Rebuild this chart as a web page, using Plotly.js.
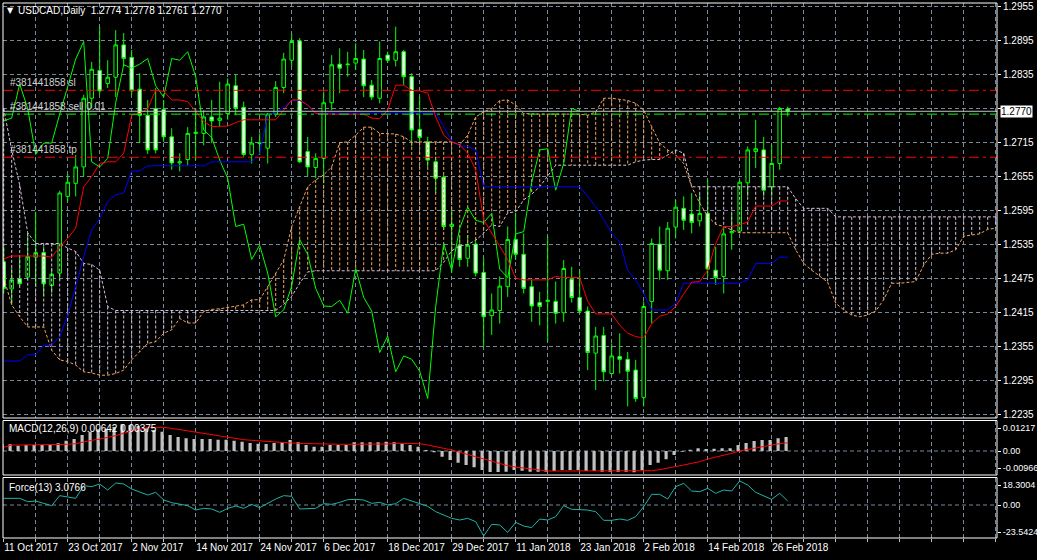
<!DOCTYPE html>
<html>
<head>
<meta charset="utf-8">
<script src="https://cdn.plot.ly/plotly-3.0.1.min.js"></script>
<style>
html,body{margin:0;padding:0;background:#000;}
#chart{width:1037px;height:560px;}
</style>
</head>
<body>
<div id="chart"></div>
<script>
// ---------------- DATA ----------------
const symbol = 'USDCAD,Daily';

const dates = [
'2017-10-11','2017-10-12','2017-10-13','2017-10-16','2017-10-17','2017-10-18','2017-10-19','2017-10-20','2017-10-23','2017-10-24',
'2017-10-25','2017-10-26','2017-10-27','2017-10-30','2017-10-31','2017-11-01','2017-11-02','2017-11-03','2017-11-06','2017-11-07',
'2017-11-08','2017-11-09','2017-11-10','2017-11-13','2017-11-14','2017-11-15','2017-11-16','2017-11-17','2017-11-20','2017-11-21',
'2017-11-22','2017-11-23','2017-11-24','2017-11-27','2017-11-28','2017-11-29','2017-11-30','2017-12-01','2017-12-04','2017-12-05',
'2017-12-06','2017-12-07','2017-12-08','2017-12-11','2017-12-12','2017-12-13','2017-12-14','2017-12-15','2017-12-18','2017-12-19',
'2017-12-20','2017-12-21','2017-12-22','2017-12-26','2017-12-27','2017-12-28','2017-12-29','2018-01-02','2018-01-03','2018-01-04',
'2018-01-05','2018-01-08','2018-01-09','2018-01-10','2018-01-11','2018-01-12','2018-01-15','2018-01-16','2018-01-17','2018-01-18',
'2018-01-19','2018-01-22','2018-01-23','2018-01-24','2018-01-25','2018-01-26','2018-01-29','2018-01-30','2018-01-31','2018-02-01',
'2018-02-02','2018-02-05','2018-02-06','2018-02-07','2018-02-08','2018-02-09','2018-02-12','2018-02-13','2018-02-14','2018-02-15',
'2018-02-16','2018-02-19','2018-02-20','2018-02-21','2018-02-22','2018-02-23','2018-02-26','2018-02-27','2018-02-28'
];

const open = [
1.2505,1.2457,1.2475,1.2478,1.2513,1.2521,1.2463,1.2485,1.2620,1.2643,
1.2672,1.2793,1.2842,1.2819,1.2830,1.2887,1.2865,1.2809,1.2763,1.2775,
1.2773,1.2725,1.2679,1.2685,1.2731,1.2731,1.2760,1.2754,1.2766,1.2815,
1.2777,1.2694,1.2713,1.2705,1.2765,1.2812,1.2860,1.2894,1.2699,1.2671,
1.2687,1.2785,1.2853,1.2852,1.2855,1.2862,1.2816,1.2793,1.2869,1.2860,
1.2875,1.2831,1.2738,1.2716,1.2681,1.2654,1.2567,1.2534,1.2511,1.2536,
1.2486,1.2410,1.2419,1.2461,1.2544,1.2518,1.2461,1.2433,1.2435,1.2435,
1.2415,1.2474,1.2442,1.2418,1.2344,1.2375,1.2308,1.2338,1.2333,1.2314,
1.2266,1.2435,1.2536,1.2489,1.2566,1.2599,1.2589,1.2577,1.2590,1.2490,
1.2479,1.2556,1.2559,1.2644,1.2699,1.2702,1.2637,1.2678,1.2774
];
const high = [
1.2531,1.2494,1.2512,1.2555,1.2593,1.2531,1.2494,1.2630,1.2659,1.2693,
1.2799,1.2857,1.2919,1.2860,1.2913,1.2908,1.2878,1.2837,1.2790,1.2811,
1.2790,1.2740,1.2696,1.2742,1.2775,1.2772,1.2790,1.2822,1.2828,1.2834,
1.2787,1.2725,1.2731,1.2767,1.2823,1.2873,1.2907,1.2899,1.2725,1.2696,
1.2805,1.2869,1.2881,1.2875,1.2890,1.2878,1.2825,1.2893,1.2875,1.2919,
1.2878,1.2837,1.2795,1.2725,1.2690,1.2658,1.2596,1.2549,1.2552,1.2543,
1.2511,1.2449,1.2479,1.2567,1.2590,1.2555,1.2473,1.2452,1.2549,1.2470,
1.2508,1.2496,1.2490,1.2426,1.2390,1.2390,1.2361,1.2379,1.2346,1.2332,
1.2435,1.2546,1.2567,1.2575,1.2614,1.2620,1.2626,1.2624,1.2649,1.2531,
1.2567,1.2590,1.2649,1.2708,1.2755,1.2725,1.2711,1.2778,1.2778
];
const low = [
1.2449,1.2429,1.2462,1.2473,1.2461,1.2444,1.2450,1.2473,1.2611,1.2620,
1.2655,1.2775,1.2800,1.2811,1.2795,1.2849,1.2799,1.2714,1.2695,1.2696,
1.2716,1.2667,1.2664,1.2675,1.2684,1.2710,1.2714,1.2743,1.2755,1.2763,
1.2690,1.2678,1.2693,1.2678,1.2760,1.2802,1.2849,1.2679,1.2655,1.2652,
1.2643,1.2772,1.2802,1.2831,1.2843,1.2795,1.2790,1.2784,1.2855,1.2849,
1.2816,1.2708,1.2716,1.2672,1.2626,1.2561,1.2485,1.2496,1.2496,1.2479,
1.2355,1.2376,1.2396,1.2443,1.2508,1.2449,1.2399,1.2393,1.2364,1.2396,
1.2399,1.2433,1.2414,1.2314,1.2279,1.2294,1.2306,1.2308,1.2250,1.2258,
1.2250,1.2396,1.2473,1.2473,1.2546,1.2561,1.2555,1.2567,1.2479,1.2464,
1.2449,1.2526,1.2555,1.2620,1.2670,1.2620,1.2620,1.2667,1.2761
];
const close = [
1.2458,1.2473,1.2466,1.2514,1.2521,1.2466,1.2483,1.2626,1.2645,1.2672,
1.2793,1.2844,1.2806,1.2830,1.2887,1.2863,1.2806,1.2763,1.2702,1.2702,
1.2725,1.2679,1.2681,1.2731,1.2733,1.2760,1.2753,1.2758,1.2818,1.2775,
1.2694,1.2714,1.2714,1.2765,1.2812,1.2862,1.2893,1.2681,1.2672,1.2687,
1.2785,1.2852,1.2846,1.2853,1.2863,1.2815,1.2795,1.2863,1.2860,1.2875,
1.2831,1.2737,1.2724,1.2684,1.2652,1.2567,1.2571,1.2509,1.2534,1.2485,
1.2408,1.2420,1.2462,1.2544,1.2518,1.2458,1.2427,1.2426,1.2437,1.2414,
1.2493,1.2442,1.2418,1.2345,1.2374,1.2311,1.2339,1.2333,1.2312,1.2264,
1.2426,1.2537,1.2490,1.2564,1.2601,1.2578,1.2574,1.2590,1.2492,1.2477,
1.2554,1.2558,1.2645,1.2702,1.2704,1.2631,1.2678,1.2775,1.2770
];

// Ichimoku (9,26,52)
const tenkan = [
1.2510,1.2515,1.2515,1.2515,1.2515,1.2515,1.2513,1.2531,1.2546,1.2564,
1.2637,1.2655,1.2678,1.2681,1.2681,1.2696,1.2763,1.2766,1.2775,1.2807,
1.2805,1.2790,1.2790,1.2787,1.2770,1.2752,1.2743,1.2743,1.2744,1.2750,
1.2755,1.2755,1.2755,1.2755,1.2755,1.2772,1.2790,1.2790,1.2781,1.2766,
1.2765,1.2765,1.2765,1.2765,1.2765,1.2765,1.2758,1.2757,1.2772,1.2816,
1.2816,1.2807,1.2806,1.2802,1.2760,1.2728,1.2716,1.2711,1.2696,1.2667,
1.2579,1.2555,1.2532,1.2509,1.2476,1.2473,1.2473,1.2473,1.2473,1.2479,
1.2477,1.2477,1.2477,1.2435,1.2413,1.2413,1.2413,1.2393,1.2379,1.2373,
1.2371,1.2396,1.2409,1.2413,1.2426,1.2448,1.2469,1.2470,1.2490,1.2537,
1.2567,1.2567,1.2570,1.2575,1.2603,1.2603,1.2603,1.2612,1.2612
];
const kijun = [
1.2330,1.2330,1.2330,1.2341,1.2341,1.2358,1.2358,1.2373,1.2411,1.2461,
1.2514,1.2561,1.2581,1.2611,1.2623,1.2626,1.2665,1.2665,1.2674,1.2674,
1.2674,1.2674,1.2674,1.2674,1.2674,1.2674,1.2681,1.2681,1.2681,1.2681,
1.2681,1.2681,1.2696,1.2763,1.2768,1.2777,1.2789,1.2789,1.2781,1.2767,
1.2767,1.2767,1.2767,1.2767,1.2767,1.2767,1.2767,1.2767,1.2767,1.2767,
1.2767,1.2767,1.2767,1.2767,1.2767,1.2743,1.2718,1.2709,1.2708,1.2702,
1.2637,1.2637,1.2637,1.2637,1.2637,1.2637,1.2637,1.2637,1.2637,1.2637,
1.2637,1.2637,1.2637,1.2620,1.2602,1.2579,1.2555,1.2540,1.2490,1.2473,
1.2449,1.2420,1.2420,1.2420,1.2432,1.2467,1.2467,1.2467,1.2467,1.2467,
1.2467,1.2467,1.2467,1.2473,1.2502,1.2502,1.2502,1.2513,1.2513
];
// Senkou spans, already shifted 26 bars forward (index = bar position)
const senkouA = [
1.2477,1.2429,1.2408,1.2390,1.2390,1.2390,1.2349,1.2332,1.2329,1.2323,
1.2311,1.2309,1.2305,1.2305,1.2308,1.2314,1.2332,1.2346,1.2361,1.2364,
1.2379,1.2385,1.2405,1.2397,1.2397,1.2417,1.2421,1.2422,1.2424,1.2426,
1.2429,1.2438,1.2438,1.2461,1.2485,1.2508,1.2567,1.2602,1.2637,1.2649,
1.2658,1.2672,1.2715,1.2716,1.2728,1.2742,1.2742,1.2731,1.2731,1.2730,
1.2725,1.2716,1.2716,1.2716,1.2716,1.2716,1.2716,1.2711,1.2728,1.2760,
1.2769,1.2775,1.2789,1.2790,1.2781,1.2766,1.2765,1.2765,1.2765,1.2765,
1.2765,1.2765,1.2765,1.2763,1.2769,1.2793,1.2793,1.2791,1.2789,1.2784,
1.2772,1.2743,1.2714,1.2702,1.2693,1.2678,1.2637,1.2608,1.2585,1.2571,
1.2567,1.2561,1.2556,1.2556,1.2556,1.2556,1.2556,1.2556,1.2556,1.2526,
1.2502,1.2490,1.2480,1.2469,1.2432,1.2420,1.2411,1.2408,1.2411,1.2418,
1.2438,1.2467,1.2467,1.2469,1.2470,1.2499,1.2518,1.2520,1.2520,1.2526,
1.2550,1.2552,1.2554,1.2562,1.2564
];
const senkouB = [
1.2775,1.2702,1.2640,1.2556,1.2537,1.2537,1.2537,1.2537,1.2529,1.2523,
1.2502,1.2500,1.2490,1.2426,1.2419,1.2419,1.2419,1.2419,1.2419,1.2419,
1.2419,1.2419,1.2419,1.2419,1.2419,1.2419,1.2419,1.2419,1.2419,1.2419,
1.2419,1.2419,1.2419,1.2419,1.2419,1.2430,1.2444,1.2467,1.2487,1.2489,
1.2489,1.2489,1.2489,1.2489,1.2489,1.2489,1.2489,1.2489,1.2489,1.2489,
1.2489,1.2489,1.2489,1.2489,1.2489,1.2504,1.2524,1.2533,1.2535,1.2543,
1.2555,1.2570,1.2567,1.2591,1.2593,1.2614,1.2624,1.2637,1.2655,1.2675,
1.2675,1.2675,1.2675,1.2675,1.2675,1.2675,1.2675,1.2675,1.2675,1.2681,
1.2684,1.2685,1.2685,1.2693,1.2702,1.2696,1.2637,1.2637,1.2637,1.2637,
1.2637,1.2637,1.2637,1.2637,1.2637,1.2637,1.2637,1.2637,1.2637,1.2616,
1.2599,1.2599,1.2599,1.2599,1.2584,1.2584,1.2584,1.2584,1.2584,1.2584,
1.2584,1.2584,1.2584,1.2584,1.2584,1.2584,1.2584,1.2584,1.2584,1.2584,
1.2584,1.2584,1.2584,1.2584,1.2584
];

// MACD(12,26,9)
const macdMain = [
0.00303,0.00303,0.00243,0.00273,0.00273,0.00273,0.00273,0.00349,0.00470,0.00546,
0.00728,0.00879,0.00985,0.01001,0.01092,0.01217,0.01182,0.01137,0.01031,0.00955,
0.00879,0.00728,0.00637,0.00576,0.00546,0.00546,0.00546,0.00515,0.00515,0.00470,
0.00424,0.00364,0.00334,0.00318,0.00364,0.00394,0.00500,0.00394,0.00273,0.00197,
0.00197,0.00273,0.00273,0.00273,0.00394,0.00394,0.00394,0.00394,0.00424,0.00394,
0.00334,0.00273,0.00197,0.00045,-0.00061,-0.00258,-0.00409,-0.00531,-0.00637,-0.00743,
-0.00864,-0.00955,-0.00955,-0.00940,-0.00864,-0.00894,-0.00940,-0.00940,-0.00940,-0.00910,
-0.00864,-0.00864,-0.00864,-0.00910,-0.00910,-0.00940,-0.00940,-0.00940,-0.00940,-0.00966,
-0.00864,-0.00637,-0.00531,-0.00379,-0.00182,-0.00030,0.00061,0.00121,0.00091,0.00106,
0.00121,0.00121,0.00273,0.00364,0.00455,0.00500,0.00500,0.00580,0.00642
];
const macdSignal = [
0.00167,0.00273,0.00273,0.00273,0.00273,0.00273,0.00273,0.00303,0.00303,0.00334,
0.00424,0.00485,0.00546,0.00606,0.00697,0.00803,0.00925,0.01001,0.01061,0.01076,
0.01076,0.01031,0.00970,0.00910,0.00849,0.00788,0.00728,0.00667,0.00622,0.00561,
0.00515,0.00485,0.00455,0.00424,0.00394,0.00379,0.00364,0.00349,0.00334,0.00318,
0.00303,0.00303,0.00303,0.00303,0.00303,0.00318,0.00318,0.00318,0.00318,0.00349,
0.00349,0.00349,0.00334,0.00273,0.00182,0.00121,0.00045,-0.00061,-0.00152,-0.00258,
-0.00364,-0.00485,-0.00561,-0.00667,-0.00728,-0.00788,-0.00819,-0.00864,-0.00910,-0.00910,
-0.00910,-0.00894,-0.00894,-0.00894,-0.00894,-0.00894,-0.00894,-0.00894,-0.00894,-0.00894,
-0.00894,-0.00894,-0.00849,-0.00788,-0.00712,-0.00637,-0.00561,-0.00485,-0.00364,-0.00288,
-0.00197,-0.00106,0.00000,0.00076,0.00152,0.00212,0.00273,0.00334,0.00375
];

// Force Index(13)
const force = [
5.07,5.07,5.07,2.54,3.04,1.27,-0.51,7.10,6.34,5.07,
14.71,13.95,15.98,11.42,16.74,15.98,12.18,10.15,7.61,9.64,
3.81,1.78,0.76,-0.51,-3.81,-2.54,-3.04,-5.58,-2.54,-0.76,
-2.54,0.51,-2.03,1.27,4.57,7.10,6.60,-3.04,-3.04,-2.54,
1.01,0.51,2.03,4.06,4.31,3.81,1.27,2.03,0.00,1.00,
5.07,3.04,1.27,-1.01,-5.07,-7.61,-10.15,-11.42,-10.15,-12.69,
-23.5424,-14.71,-15.22,-20.80,-13.19,-15.98,-17.25,-10.66,-11.42,-8.88,
-0.51,-3.30,-3.81,-3.81,-5.07,-11.67,-11.67,-10.66,-11.67,-8.88,
-1.27,8.12,8.12,4.57,13.95,16.49,10.66,10.15,12.69,8.88,
11.42,10.66,18.3004,15.22,9.64,6.85,4.31,8.88,3.0766
];

// open order
const orderId = '#381441858';
const orderType = 'sell';
const orderLots = 0.01;
const orderOpen = 1.2765;
const orderSL = 1.2807;
const orderTP = 1.2689;

// price axis ticks
const priceTicks = [1.2235,1.2295,1.2355,1.2415,1.2475,1.2535,1.2595,1.2655,1.2715,1.2775,1.2835,1.2895,1.2955];
const months = ['Jan','Feb','Mar','Apr','May','Jun','Jul','Aug','Sep','Oct','Nov','Dec'];

// ---------------- BUILD ----------------
const N = close.length;
const idx = close.map((_, i) => i);
const cloudIdx = senkouA.map((_, i) => i);
const last = N - 1;

const fmtDate = s => { const p = s.split('-'); return (+p[2]) + ' ' + months[+p[1]-1] + ' ' + p[0]; };

// x ticks every 4 bars, date labels every 8 bars
const xTickVals = [], xTickText = [];
for (let k = 0; k < cloudIdx.length; k += 4) {
  xTickVals.push(k);
  xTickText.push(k % 8 === 0 && k < N ? fmtDate(dates[k]) : '');
}

// Kumo hatching
const upX=[], upY=[], dnX=[], dnY=[];
senkouA.forEach((a, i) => {
  const b = senkouB[i];
  if (a >= b) { upX.push(i, i, null); upY.push(a, b, null); }
  else { dnX.push(i, i, null); dnY.push(b, a, null); }
});

// Chikou = close shifted 26 bars back
const chX = [], chY = [];
for (let i = 0; i < N; i++) { if (i - 26 >= -1) { chX.push(i - 26); chY.push(close[i]); } }

const GRID = '#778899';
const GDASH = '4px,3px';
const FONT = 'Liberation Sans, Arial, sans-serif';

const traces = [
  {type:'scatter', mode:'lines', x:dnX, y:dnY, line:{color:'#d8bfd8', width:1, dash:'3px,2px'}, hoverinfo:'skip'},
  {type:'scatter', mode:'lines', x:upX, y:upY, line:{color:'#f4a460', width:1, dash:'3px,2px'}, hoverinfo:'skip'},
  {type:'scatter', mode:'lines', x:cloudIdx, y:senkouB, line:{color:'#d8bfd8', width:1, dash:'3px,2px'}},
  {type:'scatter', mode:'lines', x:cloudIdx, y:senkouA, line:{color:'#f4a460', width:1, dash:'3px,2px'}},
  {type:'candlestick', x:idx, open:open, high:high, low:low, close:close, whiskerwidth:0,
   increasing:{line:{color:'#00ff00', width:1}, fillcolor:'#000000'},
   decreasing:{line:{color:'#00ff00', width:1}, fillcolor:'#ffffff'}},
  {type:'scatter', mode:'lines', x:chX, y:chY, line:{color:'#00ff00', width:1}},
  {type:'scatter', mode:'lines', x:idx, y:kijun, line:{color:'#0000ff', width:1}},
  {type:'scatter', mode:'lines', x:idx, y:tenkan, line:{color:'#ff0000', width:1}},
  {type:'bar', x:idx, y:macdMain, yaxis:'y2', marker:{color:'#c0c0c0', line:{width:0}}, width:0.4, offset:-0.4},
  {type:'scatter', mode:'lines', x:idx, y:macdSignal, yaxis:'y2', line:{color:'#ff0000', width:1}},
  {type:'scatter', mode:'lines', x:idx, y:force, yaxis:'y3', line:{color:'#20b2aa', width:1}}
];

// pixel helpers for the frame (plot area 3..997 x 3..538)
const PL = 3, PW = 994, PT = 3, PH = 535;
const px = x => (x - PL) / PW;
const py = y => (PT + PH - y) / PH;

const mainDom = [py(418), 1];
const macdDom = [py(475), py(420.5)];
const forceDom = [0, py(477.5)];

const macdRange = [-0.01091, 0.01387];
const forceRange = [-25.11, 20.93];

const macdMax = Math.max(...macdMain), macdMin = Math.min(...macdMain);
const fMax = Math.max(...force), fMin = Math.min(...force);

// MT4 draws the max/min labels of a sub-window a few pixels inside its frame
const insetTop = (range, hPx, inset) => range[1] - inset * (range[1] - range[0]) / hPx;
const insetBot = (range, hPx, inset) => range[0] + inset * (range[1] - range[0]) / hPx;
const macdH = 475 - 420.5, forceH = 538 - 477.5;

// hide the price tick label that sits under the current-price box
const priceText = priceTicks.map(v => Math.abs(v - close[last]) < 0.0008 ? '' : v.toFixed(4));

const axCommon = {color:'#ffffff', tickfont:{family:FONT, size:10, color:'#ffffff'}, zeroline:false, showline:false, fixedrange:true};
const subFont = {family:FONT, size:9, color:'#ffffff'};

const layout = {
  width:1037, height:560,
  margin:{l:PL, r:40, t:PT, b:22, pad:0},
  paper_bgcolor:'#000000', plot_bgcolor:'#000000',
  showlegend:false,
  boxgap:0.37,
  font:{family:FONT, size:10, color:'#ffffff'},
  xaxis:Object.assign({}, axCommon, {
    anchor:'y3', range:[-0.0875, 124.1625], rangeslider:{visible:false},
    tickmode:'array', tickvals:xTickVals, ticktext:xTickText, tickangle:0, automargin:false,
    ticklabelposition:'outside right', ticks:'outside', ticklen:3, tickcolor:'#c0c0c0',
    showgrid:true, gridcolor:GRID, griddash:GDASH, gridwidth:1
  }),
  yaxis:Object.assign({}, axCommon, {
    domain:mainDom, anchor:'x', side:'right', range:[1.22296, 1.29608], automargin:false,
    tickmode:'array', tickvals:priceTicks, ticktext:priceText,
    ticks:'outside', ticklen:3, tickcolor:'#ffffff',
    showgrid:true, gridcolor:GRID, griddash:GDASH, gridwidth:1
  }),
  yaxis2:Object.assign({}, axCommon, {
    domain:macdDom, anchor:'x', side:'right', range:macdRange, automargin:false, tickfont:subFont,
    tickmode:'array',
    tickvals:[insetTop(macdRange, macdH, 7.5), 0, insetBot(macdRange, macdH, 7)],
    ticktext:[macdMax.toFixed(5), '0.00', macdMin.toFixed(5)],
    ticks:'outside', ticklen:3, tickcolor:'#ffffff', showgrid:false
  }),
  yaxis3:Object.assign({}, axCommon, {
    domain:forceDom, anchor:'x', side:'right', range:forceRange, automargin:false, tickfont:subFont,
    tickmode:'array',
    tickvals:[insetTop(forceRange, forceH, 7.5), 0, insetBot(forceRange, forceH, 6)],
    ticktext:[fMax.toFixed(4), '0.00', fMin.toFixed(4)],
    ticks:'outside', ticklen:3, tickcolor:'#ffffff', showgrid:false
  }),
  shapes:[
    {type:'line', xref:'paper', x0:0, x1:1, yref:'y2', y0:0, y1:0, layer:'below', line:{color:GRID, width:1, dash:GDASH}},
    {type:'line', xref:'paper', x0:0, x1:1, yref:'y3', y0:0, y1:0, layer:'below', line:{color:GRID, width:1, dash:GDASH}},
    {type:'line', xref:'paper', x0:0, x1:1, yref:'y', y0:orderSL, y1:orderSL, line:{color:'#ff0000', width:1, dash:'10px,4px,3px,4px'}},
    {type:'line', xref:'paper', x0:0, x1:1, yref:'y', y0:orderTP, y1:orderTP, line:{color:'#ff0000', width:1, dash:'10px,4px,3px,4px'}},
    {type:'line', xref:'paper', x0:0, x1:1, yref:'y', y0:orderOpen, y1:orderOpen, line:{color:'#00ff00', width:1, dash:'10px,4px,3px,4px'}},
    {type:'line', xref:'paper', x0:0, x1:1, yref:'y', y0:close[last], y1:close[last], line:{color:'#c0c0c0', width:1}},
    {type:'rect', xref:'paper', yref:'paper', x0:0, x1:1, y0:mainDom[0], y1:mainDom[1], line:{color:'#ffffff', width:1}},
    {type:'rect', xref:'paper', yref:'paper', x0:0, x1:1, y0:macdDom[0], y1:macdDom[1], line:{color:'#ffffff', width:1}},
    {type:'rect', xref:'paper', yref:'paper', x0:0, x1:1, y0:forceDom[0], y1:forceDom[1], line:{color:'#ffffff', width:1}}
  ],
  annotations:[
    {xref:'paper', yref:'paper', x:px(5), y:py(11), xanchor:'left', yanchor:'middle', showarrow:false,
     text:'\u25BC', font:{family:'DejaVu Sans', size:8, color:'#ffffff'}},
    {xref:'paper', yref:'paper', x:px(16), y:py(11), xanchor:'left', yanchor:'middle', showarrow:false,
     text:symbol + '\u00a0 ' + open[last].toFixed(4) + ' ' + high[last].toFixed(4) + ' ' + low[last].toFixed(4) + ' ' + close[last].toFixed(4),
     font:{family:FONT, size:10, color:'#ffffff'}},
    {xref:'paper', yref:'y', x:px(8), y:orderSL, xanchor:'left', yanchor:'bottom', showarrow:false,
     text:orderId + ' sl', font:{family:FONT, size:10, color:'#d0d0d0'}},
    {xref:'paper', yref:'y', x:px(8), y:orderOpen, xanchor:'left', yanchor:'bottom', showarrow:false,
     text:orderId + ' ' + orderType + ' ' + orderLots.toFixed(2), font:{family:FONT, size:10, color:'#d0d0d0'}},
    {xref:'paper', yref:'y', x:px(8), y:orderTP, xanchor:'left', yanchor:'bottom', showarrow:false,
     text:orderId + ' tp', font:{family:FONT, size:10, color:'#d0d0d0'}},
    {xref:'paper', yref:'y', x:1, xshift:3, y:close[last], xanchor:'left', yanchor:'middle', showarrow:false,
     text:close[last].toFixed(4), bgcolor:'#ffffff', borderpad:0, font:{family:FONT, size:10, color:'#000000'}},
    {xref:'paper', yref:'paper', x:px(7), y:py(428), xanchor:'left', yanchor:'middle', showarrow:false,
     text:'MACD(12,26,9) ' + macdMain[last].toFixed(5) + ' ' + macdSignal[last].toFixed(5), font:{family:FONT, size:10, color:'#ffffff'}},
    {xref:'paper', yref:'paper', x:px(7), y:py(487), xanchor:'left', yanchor:'middle', showarrow:false,
     text:'Force(13) ' + force[last].toFixed(4), font:{family:FONT, size:10, color:'#ffffff'}}
  ]
};

Plotly.newPlot('chart', traces, layout, {staticPlot:true, displayModeBar:false});
</script>
</body>
</html>
